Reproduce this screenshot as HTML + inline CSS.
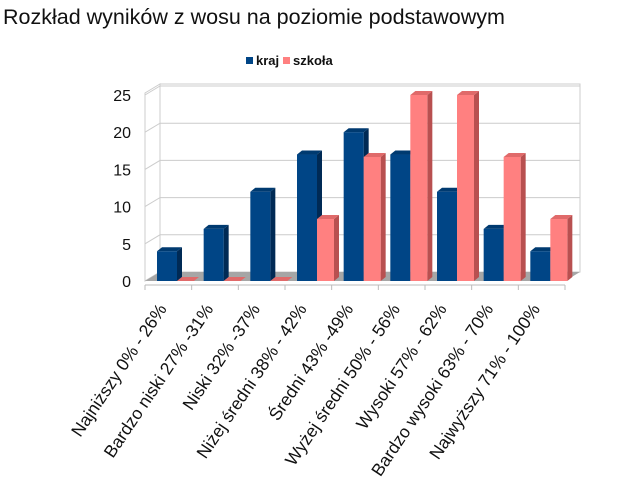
<!DOCTYPE html>
<html><head><meta charset="utf-8"><style>
body{margin:0;background:#fff;}
svg{display:block;font-family:"Liberation Sans",sans-serif;}
</style></head><body>
<svg width="620" height="490" viewBox="0 0 620 490">
<text x="3" y="24" font-size="21.5" fill="#111">Rozkład wyników z wosu na poziomie podstawowym</text>
<g font-size="13" font-weight="bold" fill="#111">
<rect x="246" y="57" width="7" height="7" fill="#004586"/>
<text x="256" y="65">kraj</text>
<rect x="283" y="57" width="7" height="7" fill="#ff8080"/>
<text x="293" y="65">szkoła</text>
</g>
<g id="plot"></g>
</svg>
<script>
const categories=["Najniższy 0% - 26%","Bardzo niski 27% -31%","Niski 32% -37%","Niżej średni 38% - 42%","Średni 43% -49%","Wyżej średni 50% - 56%","Wysoki 57% - 62%","Bardzo wysoki 63% - 70%","Najwyższy 71% - 100%"];
const kraj=[4,7,12,17,20,17,12,7,4];
const szkola=[0,0,0,8.33,16.67,25,25,16.67,8.33];
const yTicks=[0,5,10,15,20,25];
const NS="http://www.w3.org/2000/svg";
const g=document.getElementById('plot');
const x0=145,x1=565,y0=281,yTop=95,DX=15,DY=-9;
const catW=(x1-x0)/categories.length;
const y=v=>y0-(v/25)*(y0-yTop);
function el(t,a){const e=document.createElementNS(NS,t);for(const k in a)e.setAttribute(k,a[k]);g.appendChild(e);return e;}
let w=el('polygon',{points:`${x0+DX},${y0+DY} ${x1+DX},${y0+DY} ${x1+DX},${yTop+DY-2} ${x0+DX},${yTop+DY-2}`,fill:'#fff',stroke:'#ccc'});

let lw=el('polygon',{points:`${x0},${y0} ${x0+DX},${y0+DY} ${x0+DX},${yTop+DY-2} ${x0},${yTop-2}`,fill:'#fff',stroke:'#ccc'});

yTicks.forEach(t=>{
 const gl=el('polyline',{points:`${x0},${y(t)} ${x0+DX},${y(t)+DY} ${x1+DX},${y(t)+DY}`,fill:'none',stroke:'#ccc'});
 
 const tl=el('text',{x:x0-14,y:y(t)+6,'text-anchor':'end','font-size':16,fill:'#111'});tl.textContent=t;
 
});
const fl=el('polygon',{points:`${x0},${y0} ${x1},${y0} ${x1+DX},${y0+DY} ${x0+DX},${y0+DY}`,fill:'#a6a6a6'});

const ax=el('line',{x1:x0,y1:y0+4,x2:x1,y2:y0+4,stroke:'#bbb'});

for(let i=0;i<=categories.length;i++){const tk=el('line',{x1:x0+i*catW,y1:y0+4,x2:x0+i*catW,y2:y0+9,stroke:'#bbb'});
 }
function bar(xl,wd,v,front,side,top,name){
 const yt=y(v),d=5,dy=-4;
 const s=el('polygon',{points:`${xl+wd},${y0} ${xl+wd+d},${y0+dy} ${xl+wd+d},${yt+dy} ${xl+wd},${yt}`,fill:side});
 
 const tp=el('polygon',{points:`${xl},${yt} ${xl+d},${yt+dy} ${xl+wd+d},${yt+dy} ${xl+wd},${yt}`,fill:top});
 
 const r=el('rect',{x:xl,y:yt,width:wd,height:Math.max(0,y0-yt),fill:front});
 
}
categories.forEach((c,i)=>{
 const cx=x0+i*catW;
 bar(cx+12,20,kraj[i],'#004586','#002a55','#003a70','bar-kraj-'+i);
 bar(cx+32,17,szkola[i],'#ff8080','#b85050','#e06a6a','bar-szkola-'+i);
 const lb=el('text',{x:0,y:0,'text-anchor':'end','font-size':17.5,fill:'#111',transform:`translate(${cx+catW/2-1},${y0+28}) rotate(-56)`});
 lb.textContent=c;
 
});
</script>
</body></html>
